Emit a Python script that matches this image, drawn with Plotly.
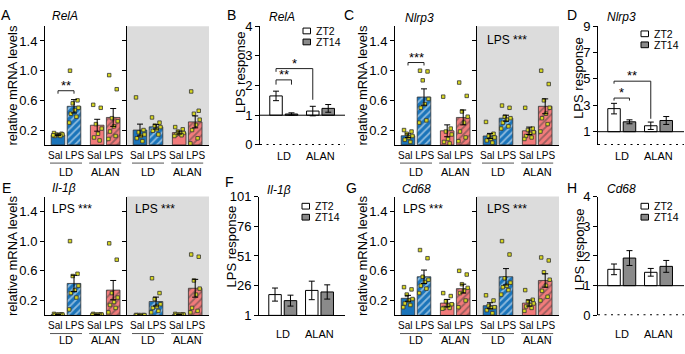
import plotly.graph_objects as go

W, H = 685, 354
FONT = "Liberation Sans, Arial, Helvetica, sans-serif"

# ------------------------------------------------------------------ data
treatments = ["Sal", "LPS", "Sal", "LPS"]
lighting = ["LD", "LD", "ALAN", "ALAN"]
conditions = ["LD", "ALAN"]
zt_labels = ["ZT2", "ZT14"]

# RelA relative mRNA levels
relA_zt2_mean = [0.135, 0.52, 0.265, 0.37]
relA_zt2_sem = [0.01, 0.09, 0.08, 0.12]
relA_zt2_pts = [[0.16, 0.15, 0.14, 0.14, 0.13, 0.12, 0.12, 0.13],
                [1.0, 0.60, 0.56, 0.50, 0.47, 0.42, 0.38, 0.30],
                [0.54, 0.50, 0.28, 0.22, 0.15, 0.10, 0.06],
                [0.94, 0.75, 0.36, 0.32, 0.25, 0.18, 0.12, 0.08]]
relA_zt14_mean = [0.20, 0.243, 0.166, 0.31]
relA_zt14_sem = [0.08, 0.03, 0.02, 0.08]
relA_zt14_pts = [[0.64, 0.20, 0.17, 0.14, 0.12, 0.09, 0.05],
                 [0.37, 0.30, 0.26, 0.24, 0.21, 0.19, 0.14],
                 [0.24, 0.21, 0.18, 0.16, 0.15, 0.14, 0.13, 0.12],
                 [0.72, 0.46, 0.42, 0.34, 0.27, 0.20, 0.09, 0.02]]

# Nlrp3
nlrp3_zt2_mean = [0.123, 0.645, 0.19, 0.37]
nlrp3_zt2_sem = [0.025, 0.11, 0.08, 0.10]
nlrp3_zt2_pts = [[0.20, 0.18, 0.15, 0.12, 0.10, 0.07, 0.04],
                 [1.0, 0.99, 0.87, 0.62, 0.55, 0.50, 0.33, 0.30],
                 [0.65, 0.22, 0.18, 0.14, 0.08, 0.04, 0.02],
                 [0.84, 0.66, 0.45, 0.38, 0.30, 0.18, 0.10, 0.05]]
nlrp3_zt14_mean = [0.12, 0.36, 0.19, 0.52]
nlrp3_zt14_sem = [0.035, 0.04, 0.05, 0.10]
nlrp3_zt14_pts = [[0.31, 0.15, 0.12, 0.10, 0.08, 0.06, 0.03],
                  [0.53, 0.50, 0.38, 0.36, 0.34, 0.30, 0.25, 0.22],
                  [0.50, 0.22, 0.20, 0.17, 0.15, 0.12, 0.10, 0.08],
                  [1.0, 0.82, 0.60, 0.50, 0.42, 0.36, 0.28, 0.18]]

# Il-1beta
il1b_zt2_mean = [0.01, 0.43, 0.01, 0.34]
il1b_zt2_sem = [0.003, 0.11, 0.003, 0.13]
il1b_zt2_pts = [[0.02, 0.015, 0.01, 0.01, 0.01, 0.005, 0.005],
                [1.0, 0.56, 0.53, 0.40, 0.34, 0.30, 0.24, 0.08],
                [0.02, 0.015, 0.01, 0.01, 0.01, 0.005, 0.005, 0.005],
                [0.97, 0.75, 0.30, 0.24, 0.18, 0.14, 0.10, 0.04]]
il1b_zt14_mean = [0.004, 0.186, 0.01, 0.365]
il1b_zt14_sem = [0.001, 0.06, 0.003, 0.12]
il1b_zt14_pts = [[0.005, 0.004, 0.004, 0.003, 0.003, 0.002],
                 [0.50, 0.30, 0.22, 0.15, 0.12, 0.10, 0.06, 0.04],
                 [0.02, 0.015, 0.01, 0.01, 0.01, 0.005, 0.005],
                 [0.82, 0.79, 0.47, 0.36, 0.28, 0.10, 0.06, 0.04]]

# Cd68
cd68_zt2_mean = [0.23, 0.52, 0.165, 0.36]
cd68_zt2_sem = [0.04, 0.09, 0.05, 0.06]
cd68_zt2_pts = [[0.38, 0.35, 0.28, 0.22, 0.20, 0.16, 0.14, 0.11],
                [0.88, 0.77, 0.52, 0.48, 0.45, 0.40, 0.36, 0.30],
                [0.30, 0.26, 0.19, 0.15, 0.13, 0.10, 0.10, 0.09],
                [0.60, 0.55, 0.42, 0.37, 0.33, 0.30, 0.20, 0.11]]
cd68_zt14_mean = [0.13, 0.52, 0.165, 0.47]
cd68_zt14_sem = [0.04, 0.11, 0.04, 0.09]
cd68_zt14_pts = [[0.27, 0.20, 0.13, 0.11, 0.10, 0.07, 0.03],
                 [1.0, 0.82, 0.50, 0.44, 0.40, 0.38, 0.34, 0.28],
                 [0.34, 0.21, 0.19, 0.16, 0.14, 0.12, 0.10, 0.06],
                 [0.78, 0.74, 0.58, 0.48, 0.40, 0.33, 0.25, 0.20]]

# LPS response (LD, ALAN)
relA_resp_zt2 = [1.65, 1.14]
relA_resp_zt2_sem = [0.16, 0.16]
relA_resp_zt14 = [1.04, 1.23]
relA_resp_zt14_sem = [0.04, 0.13]

nlrp3_resp_zt2 = [2.75, 1.45]
nlrp3_resp_zt2_sem = [0.40, 0.28]
nlrp3_resp_zt14 = [1.75, 1.85]
nlrp3_resp_zt14_sem = [0.15, 0.30]

il1b_resp_zt2 = [18.5, 22.0]
il1b_resp_zt2_sem = [5.5, 7.8]
il1b_resp_zt14 = [13.4, 20.7]
il1b_resp_zt14_sem = [4.6, 6.0]

cd68_resp_zt2 = [1.55, 1.45]
cd68_resp_zt2_sem = [0.18, 0.13]
cd68_resp_zt14 = [1.93, 1.65]
cd68_resp_zt14_sem = [0.25, 0.20]

# ------------------------------------------------------------------ style
BLUE = "#1a74ba"
RED = "#f27b7b"
GRAY_BG = "#dcdcdc"
DOT = "#d8d820"
ZT14_GRAY = "#8a8a8a"

bar_pos = [0.0, 1.0, 2.45, 3.45]
jitter = [-0.25, 0.22, -0.08, 0.28, 0.05, -0.2, 0.15, -0.3]
half_xrange = [-0.8125, 4.3125]

fig = go.Figure()
lay = {}
shapes = []
ann = []
n_ax = [0]


def py(y):
    return 1 - y / H


def px(x):
    return x / W


def new_axes(x0, x1, ytop, ybot, xrange, yrange, xkw, ykw):
    n_ax[0] += 1
    n = n_ax[0]
    s = "" if n == 1 else str(n)
    lay["xaxis" + s] = dict(domain=[x0 / W, x1 / W], range=xrange, anchor="y" + s,
                            showgrid=False, zeroline=False, ticks="",
                            showticklabels=False, fixedrange=True, **xkw)
    lay["yaxis" + s] = dict(domain=[1 - ybot / H, 1 - ytop / H], range=yrange,
                            anchor="x" + s, showgrid=False, zeroline=False,
                            fixedrange=True, **ykw)
    return "x" + s, "y" + s


def text(x, y, t, size=12, xref="paper", yref="paper", xanchor="center",
         yanchor="middle", angle=0, color="black"):
    ann.append(dict(x=x, y=y, xref=xref, yref=yref, text=t, showarrow=False,
                    xanchor=xanchor, yanchor=yanchor, textangle=angle,
                    font=dict(size=size, color=color, family=FONT)))


def bracket(xr, yr, xa, xb, ytop, ya_leg, yb_leg, stars, yshift=-4):
    shapes.append(dict(type="path", xref=xr, yref=yr,
                       path=f"M{xa},{ya_leg} L{xa},{ytop} L{xb},{ytop} L{xb},{yb_leg}",
                       line=dict(color="#222", width=1)))
    ann.append(dict(x=(xa + xb) / 2, y=ytop, xref=xr, yref=yr, text=stars,
                    showarrow=False, yanchor="bottom", yshift=yshift,
                    font=dict(size=13, color="black", family=FONT)))


def expr_half(x0, x1, ytop, ybot, means, sems, pts, gray):
    ykw = dict(showline=True, linecolor="black", linewidth=1, ticks="outside",
               ticklen=4, tickwidth=1, tickcolor="black",
               tickvals=[0.2, 0.6, 1.0, 1.4], tickformat=".1f",
               tickfont=dict(size=13, color="black", family=FONT),
               showticklabels=not gray)
    xkw = dict(showline=True, linecolor="black", linewidth=1)
    xr, yr = new_axes(x0, x1, ytop, ybot, half_xrange, [0, 1.6], xkw, ykw)
    if gray:
        shapes.append(dict(type="rect", xref=xr + " domain", yref=yr + " domain",
                           x0=0, x1=1, y0=0, y1=1, fillcolor=GRAY_BG,
                           line=dict(width=0), layer="below"))
    colors = [BLUE if l == "LD" else RED for l in lighting]
    hatch = ["/" if t == "LPS" else "" for t in treatments]
    fig.add_trace(go.Bar(
        x=bar_pos, y=means, width=0.85, xaxis=xr, yaxis=yr, showlegend=False,
        marker=dict(color=colors, line=dict(color="#333", width=0.8),
                    pattern=dict(shape=hatch, fgcolor="white", fillmode="overlay",
                                 size=5, solidity=0.35))))
    px_, py_ = [], []
    for i, plist in enumerate(pts):
        for j, v in enumerate(plist):
            px_.append(bar_pos[i] + jitter[j % len(jitter)])
            py_.append(v)
    fig.add_trace(go.Scatter(
        x=px_, y=py_, mode="markers", xaxis=xr, yaxis=yr, showlegend=False,
        marker=dict(symbol="square", size=3.5, color=DOT,
                    line=dict(color="#333", width=0.8))))
    fig.add_trace(go.Scatter(
        x=bar_pos, y=means, mode="markers", xaxis=xr, yaxis=yr, showlegend=False,
        marker=dict(size=2, color="rgba(0,0,0,0)"),
        error_y=dict(type="data", array=sems, color="black", thickness=1, width=3)))
    # category labels
    lab_off = 28 if ybot < 200 else 26
    for a, b in [(0, 1), (2, 3)]:
        mid = (bar_pos[a] + bar_pos[b]) / 2
        text(mid, py(ybot + 11), treatments[a] + " " + treatments[b], size=10, xref=xr)
        shapes.append(dict(type="line", xref=xr, yref="paper",
                           x0=bar_pos[a] - 0.5, x1=bar_pos[b] + 0.5,
                           y0=py(ybot + 19), y1=py(ybot + 19),
                           line=dict(color="#555", width=1)))
        text(mid, py(ybot + lab_off), lighting[a], size=11, xref=xr)
    return xr, yr


def expr_panel(x0, ytop, ybot, data, letter, gene, title_x, title_y, letter_x, letter_y):
    left = expr_half(x0, x0 + 82, ytop, ybot, data[0], data[1], data[2], False)
    right = expr_half(x0 + 82, x0 + 164, ytop, ybot, data[3], data[4], data[5], True)
    text(px(x0 - 32), py((ytop + ybot) / 2), "relative mRNA levels", size=13, angle=-90)
    text(px(letter_x), py(letter_y), letter, size=14)
    text(px(title_x), py(title_y), "<i>" + gene + "</i>", size=12, xanchor="left")
    return left, right


def resp_panel(x0, x1, ytop, ybot, yrange, tickvals, zt2, zt2s, zt14, zt14s,
               letter, gene, ytitle_x, ytitle_y, title_x, title_y, letter_x, letter_y,
               legend_y, label_off, zero_dotted=True):
    unit = 36.75
    lx = x0 + 23.75
    xrange = [(x0 - lx) / unit, (x1 - lx) / unit]
    ykw = dict(showline=True, linecolor="black", linewidth=1, ticks="outside",
               ticklen=4, tickwidth=1, tickcolor="black", tickvals=tickvals,
               tickfont=dict(size=13, color="black", family=FONT))
    xkw = dict(showline=not zero_dotted, linecolor="black", linewidth=1)
    xr, yr = new_axes(x0, x1, ytop, ybot, xrange, yrange, xkw, ykw)
    off = 0.21
    g = list(range(len(conditions)))
    for vals, sems, fill, sign in [(zt2, zt2s, "white", -1), (zt14, zt14s, ZT14_GRAY, 1)]:
        xs = [gi + sign * off for gi in g]
        fig.add_trace(go.Bar(x=xs, y=[v - 1 for v in vals], base=1, width=0.34,
                             xaxis=xr, yaxis=yr, showlegend=False,
                             marker=dict(color=fill, line=dict(color="black", width=1))))
        fig.add_trace(go.Scatter(x=xs, y=vals, mode="markers", xaxis=xr, yaxis=yr,
                                 showlegend=False,
                                 marker=dict(size=2, color="rgba(0,0,0,0)"),
                                 error_y=dict(type="data", array=sems, color="black",
                                              thickness=1, width=3)))
    if zero_dotted:
        shapes.append(dict(type="line", xref=xr + " domain", yref=yr, x0=0, x1=1,
                           y0=1, y1=1, line=dict(color="black", width=1)))
        shapes.append(dict(type="line", xref=xr + " domain", yref=yr, x0=0, x1=1,
                           y0=0, y1=0, line=dict(color="black", width=2, dash="2px,4.5px")))
    for gi, c in zip(g, conditions):
        text(gi, py(ybot + label_off), c, size=11, xref=xr)
    text(px(ytitle_x), py(ytitle_y), "LPS response", size=13, angle=-90)
    text(px(letter_x), py(letter_y), letter, size=14)
    text(px(title_x), py(title_y), "<i>" + gene + "</i>", size=12, xanchor="left")
    # legend
    lgx = x0 + 43
    for k, (lab, fill) in enumerate(zip(zt_labels, ["white", ZT14_GRAY])):
        yc = legend_y + 11.5 * k
        shapes.append(dict(type="rect", xref="paper", yref="paper",
                           x0=px(lgx), x1=px(lgx + 7.5), y0=py(yc + 3), y1=py(yc - 3),
                           fillcolor=fill, line=dict(color="black", width=1)))
        text(px(lgx + 10.5), py(yc), lab, size=10.5, xanchor="left")
    return xr, yr


# ------------------------------------------------------------------ panels
R1T, R1B = 20, 144
R2T, R2B = 198, 322

(aL, aR) = expr_panel(45, R1T, R1B,
                      [relA_zt2_mean, relA_zt2_sem, relA_zt2_pts,
                       relA_zt14_mean, relA_zt14_sem, relA_zt14_pts],
                      "A", "RelA", 50, 9, 6, 8)
bracket(aL[0], aL[1], bar_pos[0], bar_pos[1], 0.73, 0.69, 0.69, "**")

(cL, cR) = expr_panel(395, R1T, R1B,
                      [nlrp3_zt2_mean, nlrp3_zt2_sem, nlrp3_zt2_pts,
                       nlrp3_zt14_mean, nlrp3_zt14_sem, nlrp3_zt14_pts],
                      "C", "Nlrp3", 403, 11, 349, 8)
bracket(cL[0], cL[1], bar_pos[0], bar_pos[1], 1.11, 1.07, 1.07, "***")
text(px(485), py(34), "LPS ***", size=12, xanchor="left")

expr_panel(45, R2T, R2B,
           [il1b_zt2_mean, il1b_zt2_sem, il1b_zt2_pts,
            il1b_zt14_mean, il1b_zt14_sem, il1b_zt14_pts],
           "E", "Il-1β", 50, 189, 6, 189)
text(px(50), py(211), "LPS ***", size=12, xanchor="left")
text(px(133), py(211), "LPS ***", size=12, xanchor="left")

expr_panel(395, R2T, R2B,
           [cd68_zt2_mean, cd68_zt2_sem, cd68_zt2_pts,
            cd68_zt14_mean, cd68_zt14_sem, cd68_zt14_pts],
           "G", "Cd68", 400, 190, 351, 189)
text(px(401), py(211), "LPS ***", size=12, xanchor="left")
text(px(485), py(211), "LPS ***", size=12, xanchor="left")

bxr, byr = resp_panel(260, 345, R1T, R1B, [0, 4], [0, 1, 2, 3, 4],
                      relA_resp_zt2, relA_resp_zt2_sem, relA_resp_zt14, relA_resp_zt14_sem,
                      "B", "RelA", 240, 68, 267, 10, 231, 8, 25, 12)
bracket(bxr, byr, -0.21, 0.21, 2.19, 2.03, 2.03, "**")
bracket(bxr, byr, -0.21, 0.79, 2.57, 2.46, 1.52, "*")

dxr, dyr = resp_panel(598, 684, R1T, R1B, [0, 9], [1, 3, 5, 7, 9],
                      nlrp3_resp_zt2, nlrp3_resp_zt2_sem, nlrp3_resp_zt14, nlrp3_resp_zt14_sem,
                      "D", "Nlrp3", 579, 74, 605, 10, 572, 8, 28, 12)
bracket(dxr, dyr, -0.21, 0.21, 3.55, 3.36, 3.36, "*")
bracket(dxr, dyr, -0.21, 0.79, 4.83, 4.64, 1.98, "**")

resp_panel(259, 345, R2T, R2B, [1, 101], [1, 26, 51, 76, 101],
           il1b_resp_zt2, il1b_resp_zt2_sem, il1b_resp_zt14, il1b_resp_zt14_sem,
           "F", "Il-1β", 231, 250, 265, 191, 229, 183, 208, 19, zero_dotted=False)

resp_panel(598, 684, R2T, R2B, [0, 4], [0, 1, 2, 3, 4],
           cd68_resp_zt2, cd68_resp_zt2_sem, cd68_resp_zt14, cd68_resp_zt14_sem,
           "H", "Cd68", 579, 253, 605, 190, 572, 189, 208, 19)

fig.update_layout(
    width=W, height=H, margin=dict(l=0, r=0, t=0, b=0),
    paper_bgcolor="white", plot_bgcolor="rgba(0,0,0,0)",
    barmode="overlay", showlegend=False,
    font=dict(family=FONT, size=12, color="black"),
    shapes=shapes, annotations=ann, **lay)

fig.write_html("out.html")
